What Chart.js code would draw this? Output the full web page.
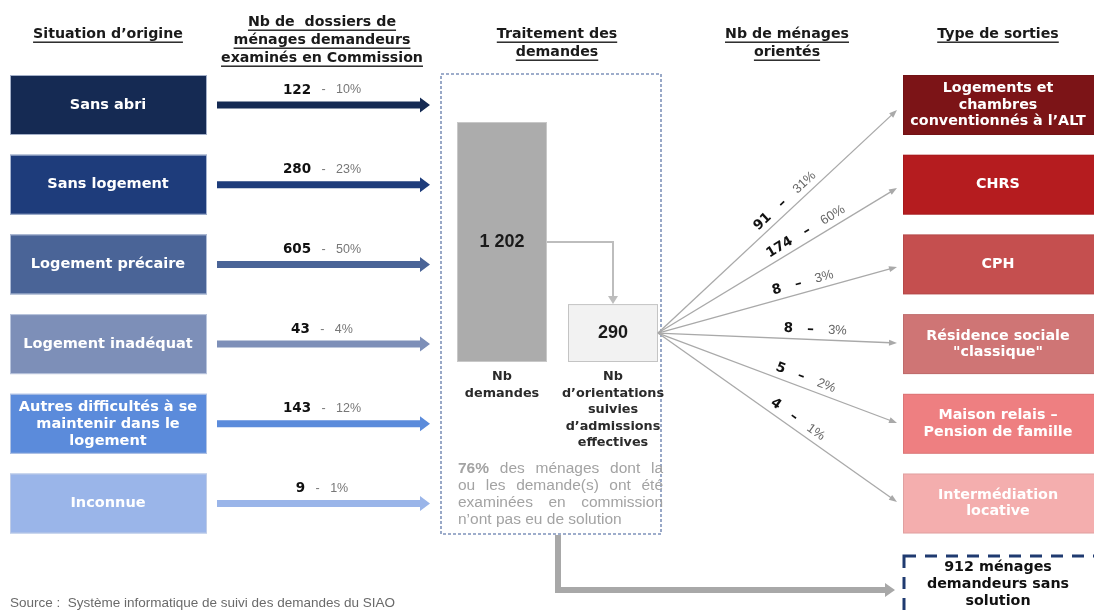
<!DOCTYPE html>
<html><head><meta charset="utf-8">
<script src="https://cdn.jsdelivr.net/npm/chart.js@4.4.1/dist/chart.umd.min.js"></script>
<style>html,body{margin:0;padding:0;background:#fff;overflow:hidden}#wrap{width:1094px;height:610px}</style>
</head><body><div id="wrap"><canvas id="c" width="1094" height="610"></canvas></div>
<script>
// ---------- DATA ----------
const headerLabels = ['Situation d\u2019origine', 'Nb de  dossiers de\nménages demandeurs\nexaminés en Commission', 'Traitement des\ndemandes', 'Nb de ménages\norientés', 'Type de sorties'];
const originLabels = ['Sans abri', 'Sans logement', 'Logement précaire', 'Logement inadéquat', 'Autres difficultés à se\nmaintenir dans le\nlogement', 'Inconnue'];
const originCounts = [122, 280, 605, 43, 143, 9];
const originShares = ['10%', '23%', '50%', '4%', '12%', '1%'];
const totalLabels = ['Nb\ndemandes', 'Nb\nd\u2019orientations\nsuivies\nd\u2019admissions\neffectives'];
const totalValues = [1202, 290];
const exitLabels = ['Logements et\nchambres\nconventionnés à l\u2019ALT', 'CHRS', 'CPH', 'Résidence sociale\n"classique"', 'Maison relais –\nPension de famille', 'Intermédiation\nlocative'];
const exitCounts = [91, 174, 8, 8, 5, 4];
const exitShares = ['31%', '60%', '3%', '3%', '2%', '1%'];
const noSolutionCount = 912;
const noSolutionShare = '76%';
const noSolutionText = ['des ménages dont la', 'ou les demande(s) ont été', 'examinées en commission', 'n\u2019ont pas eu de solution'];
const sourceText = 'Source :  Système informatique de suivi des demandes du SIAO';

// ---------- STYLE / LAYOUT ----------
const originColors = ['#152a53', '#1e3c7b', '#4a6497', '#7d8fb8', '#5b8bdb', '#9ab5e9'];
const exitColors = ['#7c1417', '#b51c1f', '#c54f4f', '#cf7575', '#ee7f81', '#f4aeae'];
const exitArrowY = [110, 188, 267, 343, 423, 502];
const exitLabelDist = [183, 179, 153, 157, 154, 164];
const BOLD = '"DejaVu Sans", sans-serif';
const REG = '"Liberation Sans", Arial, sans-serif';

function fmt(v) { return String(v).replace(/\B(?=(\d{3})+(?!\d))/g, ' '); }

const diagram = {
  id: 'diagram',
  afterDraw(chart) {
    const ctx = chart.ctx, xs = chart.scales.x, ys = chart.scales.y;
    const X = v => xs.getPixelForValue(v), Y = v => ys.getPixelForValue(v);
    ctx.save();
    ctx.fillStyle = '#fff'; ctx.fillRect(0, 0, chart.width, chart.height);

    function txt(s, x, y, font, color, align, underline) {
      ctx.font = font; ctx.fillStyle = color; ctx.textAlign = align || 'center'; ctx.textBaseline = 'middle';
      ctx.fillText(s, X(x), Y(y));
      if (underline) {
        const w = ctx.measureText(s).width;
        const x0 = align === 'left' ? X(x) : X(x) - w / 2;
        ctx.fillRect(x0, Y(y) + 7.5, w, 1.4);
      }
    }
    function lines(str, x, yc, lh, font, color, underline) {
      const arr = str.split('\n');
      const y0 = yc - (arr.length - 1) * lh / 2;
      arr.forEach((s, i) => txt(s, x, y0 + i * lh, font, color, 'center', underline));
    }
    function box(x, y, w, h, fill, stroke) {
      ctx.fillStyle = fill; ctx.fillRect(X(x), Y(y), X(x + w) - X(x), Y(y + h) - Y(y));
      if (stroke) { ctx.strokeStyle = stroke; ctx.lineWidth = 1; ctx.strokeRect(X(x) + 0.5, Y(y) + 0.5, X(x + w) - X(x) - 1, Y(y + h) - Y(y) - 1); }
    }
    function fatArrowH(x1, x2, y, th, hw, hl, color) {
      ctx.fillStyle = color;
      ctx.beginPath();
      ctx.moveTo(X(x1), Y(y - th / 2)); ctx.lineTo(X(x2 - hl), Y(y - th / 2)); ctx.lineTo(X(x2 - hl), Y(y - hw / 2));
      ctx.lineTo(X(x2), Y(y)); ctx.lineTo(X(x2 - hl), Y(y + hw / 2)); ctx.lineTo(X(x2 - hl), Y(y + th / 2));
      ctx.lineTo(X(x1), Y(y + th / 2)); ctx.closePath(); ctx.fill();
    }
    function thinArrow(x1, y1, x2, y2, color, lw, hl, hw) {
      const a = Math.atan2(Y(y2) - Y(y1), X(x2) - X(x1));
      ctx.strokeStyle = color; ctx.lineWidth = lw;
      ctx.beginPath(); ctx.moveTo(X(x1), Y(y1)); ctx.lineTo(X(x2) - Math.cos(a) * hl * 0.8, Y(y2) - Math.sin(a) * hl * 0.8); ctx.stroke();
      ctx.fillStyle = color; ctx.beginPath();
      ctx.moveTo(X(x2), Y(y2));
      ctx.lineTo(X(x2) - Math.cos(a) * hl - Math.sin(a) * hw / 2, Y(y2) - Math.sin(a) * hl + Math.cos(a) * hw / 2);
      ctx.lineTo(X(x2) - Math.cos(a) * hl + Math.sin(a) * hw / 2, Y(y2) - Math.sin(a) * hl - Math.cos(a) * hw / 2);
      ctx.closePath(); ctx.fill();
    }

    // headers
    const hFont = 'bold 14.2px ' + BOLD;
    const hx = [108, 322, 557, 787, 998];
    const hy = [34, 40, 43, 43, 34];
    headerLabels.forEach((h, i) => lines(h, hx[i], hy[i], 18, hFont, '#1a1a1a', true));

    // rows
    const rowTop = i => 75 + i * 79.7, boxH = 60;
    originLabels.forEach((lab, i) => {
      const t = rowTop(i), c = t + boxH / 2;
      box(10, t, 197, boxH, originColors[i], 'rgba(200,210,230,0.8)');
      lines(lab, 108, c, 17, 'bold 14.5px ' + BOLD, '#fff');
      fatArrowH(217, 430, c, 7, 15, 10, originColors[i]);
      // label
      ctx.textBaseline = 'middle';
      const nb = String(originCounts[i]);
      ctx.font = 'bold 13.5px ' + BOLD; const w1 = ctx.measureText(nb).width;
      const sep = '   -   ';
      ctx.font = '12.5px ' + REG; const w2 = ctx.measureText(sep + originShares[i]).width;
      const x0 = X(322) - (w1 + w2) / 2;
      ctx.textAlign = 'left';
      ctx.font = 'bold 13.5px ' + BOLD; ctx.fillStyle = '#111'; ctx.fillText(nb, x0, Y(c - 15));
      ctx.font = '12.5px ' + REG; ctx.fillStyle = '#777'; ctx.fillText(sep + originShares[i], x0 + w1, Y(c - 15));
    });

    // central dotted frame
    ctx.strokeStyle = '#7f93ba'; ctx.lineWidth = 1.6; ctx.setLineDash([3, 2]);
    ctx.strokeRect(X(441), Y(74), X(661) - X(441), Y(534) - Y(74));
    ctx.setLineDash([]);

    // bars (height proportional to value)
    const base = 362, unit = 240 / totalValues[0];
    const b1top = base - totalValues[0] * unit, b2top = base - totalValues[1] * unit;
    box(457, b1top, 90, base - b1top, '#acacac', '#c8c8c8');
    box(568, b2top, 90, base - b2top, '#f2f2f2', '#c4c4c4');
    const m1 = (b1top + base) / 2, m2 = (b2top + base) / 2;
    txt(fmt(totalValues[0]), 502, m1, 'bold 18px ' + REG, '#1a1a1a');
    txt(fmt(totalValues[1]), 613, m2, 'bold 18px ' + REG, '#1a1a1a');
    // connector
    ctx.strokeStyle = '#bdbdbd'; ctx.lineWidth = 2;
    ctx.beginPath(); ctx.moveTo(X(547), Y(m1)); ctx.lineTo(X(613), Y(m1)); ctx.lineTo(X(613), Y(b2top - 6)); ctx.stroke();
    ctx.fillStyle = '#bdbdbd'; ctx.beginPath();
    ctx.moveTo(X(608), Y(b2top - 8)); ctx.lineTo(X(618), Y(b2top - 8)); ctx.lineTo(X(613), Y(b2top)); ctx.closePath(); ctx.fill();
    // labels under bars
    const lf = 'bold 12.8px ' + BOLD;
    totalLabels[0].split('\n').forEach((s, i) => txt(s, 502, 377 + i * 16.5, lf, '#2a2a2a'));
    totalLabels[1].split('\n').forEach((s, i) => txt(s, 613, 377 + i * 16.5, lf, '#2a2a2a'));

    // justified paragraph
    const pl = 458, pr = 663, pf = '15.5px ' + REG, pfb = 'bold 15.5px ' + REG, pc = '#a3a3a3';
    ctx.textBaseline = 'middle'; ctx.textAlign = 'left'; ctx.fillStyle = pc;
    noSolutionText.forEach((line, li) => {
      const y = Y(469 + li * 16.8);
      let items = line.split(' ').map(w => ({ w, f: pf }));
      if (li === 0) items.unshift({ w: noSolutionShare, f: pfb });
      let total = 0;
      items.forEach(it => { ctx.font = it.f; it.width = ctx.measureText(it.w).width; total += it.width; });
      ctx.font = pf; const sp = ctx.measureText(' ').width;
      const last = li === noSolutionText.length - 1;
      const gap = last ? sp : Math.max(sp * 0.6, (X(pr) - X(pl) - total) / (items.length - 1));
      let x = X(pl);
      items.forEach(it => { ctx.font = it.f; ctx.fillText(it.w, x, y); x += it.width + gap; });
    });

    // fan lines
    const fx = 658, fy = m2, tx = 897;
    exitLabels.forEach((lab, i) => {
      const t = rowTop(i), c = t + boxH / 2;
      box(903, t, 200, boxH, exitColors[i], 'rgba(0,0,0,0.08)');
      lines(lab, 998, c, 16.5, 'bold 14.3px ' + BOLD, '#fff');
      thinArrow(fx, fy, tx, exitArrowY[i], '#a9a9a9', 1.3, 8, 6);
      // rotated label
      const dx = X(tx) - X(fx), dy = Y(exitArrowY[i]) - Y(fy), len = Math.hypot(dx, dy), a = Math.atan2(dy, dx);
      const d = exitLabelDist[i];
      const px = X(fx) + dx / len * d, py = Y(fy) + dy / len * d;
      ctx.save(); ctx.translate(px, py); ctx.rotate(a);
      const nb = String(exitCounts[i]);
      ctx.font = 'bold 13.5px ' + BOLD; const w1 = ctx.measureText(nb + '   –   ').width;
      ctx.font = '13px ' + REG; const w2 = ctx.measureText(exitShares[i]).width;
      ctx.textAlign = 'left'; ctx.textBaseline = 'middle';
      const x0 = -(w1 + w2) / 2;
      ctx.font = 'bold 13.5px ' + BOLD; ctx.fillStyle = '#111'; ctx.fillText(nb + '   –   ', x0, -10);
      ctx.font = '13px ' + REG; ctx.fillStyle = '#666'; ctx.fillText(exitShares[i], x0 + w1, -10);
      ctx.restore();
    });

    // no-solution path
    ctx.fillStyle = '#a8a8a8';
    ctx.fillRect(X(555), Y(535), 6, Y(593) - Y(535));
    fatArrowH(555, 895, 590, 6, 14, 10, '#a8a8a8');
    ctx.strokeStyle = '#1f3a70'; ctx.lineWidth = 3; ctx.setLineDash([12, 9]);
    ctx.strokeRect(X(904), Y(556), 220, 80);
    ctx.setLineDash([]);
    lines(fmt(noSolutionCount) + ' ménages\ndemandeurs sans\nsolution', 998, 584, 17, 'bold 14.3px ' + BOLD, '#111');

    // source
    txt(sourceText, 10, 603, '13.5px ' + REG, '#6a6a6a', 'left');
    ctx.restore();
  }
};

new Chart(document.getElementById('c'), {
  type: 'scatter',
  data: { datasets: [{ data: [] }] },
  options: {
    responsive: false, animation: false,
    layout: { padding: 0 },
    plugins: { legend: { display: false }, tooltip: { enabled: false } },
    scales: {
      x: { type: 'linear', min: 0, max: 1094, display: false },
      y: { type: 'linear', min: 0, max: 610, reverse: true, display: false }
    }
  },
  plugins: [diagram]
});
</script></body></html>
